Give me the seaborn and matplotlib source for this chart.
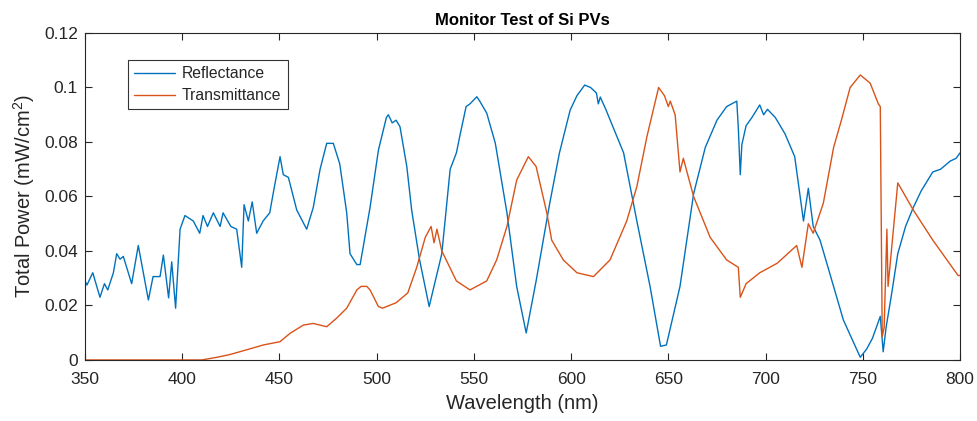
import matplotlib
matplotlib.use("Agg")
import matplotlib.pyplot as plt
import seaborn as sns
import pandas as pd

# ---- data ----
refl_wl = [350, 351, 354, 357.7, 360, 361.7, 364.6, 366.3, 368, 369.7, 374, 377.4, 380, 382.6,
           385, 388.6, 390.3, 393, 394.6, 396.6, 398.9, 401.4, 405.7, 409, 410.7, 413, 416,
           419.5, 421, 425, 428, 430.6, 431.8, 434, 436, 438.3, 441.6, 445, 447, 450.3, 452,
           454.6, 458.9, 464, 467.4, 470.9, 474.3, 477.7, 481, 484.6, 486.3, 489.8, 491.5,
           494.9, 496.6, 500.9, 505, 506, 508, 510, 512, 515.5, 518, 522, 527, 533.5, 537.8, 541,
           543, 546, 548, 551.5, 553, 556.6, 561, 567, 572, 576.9, 582, 589, 594, 599.5, 603, 607,
           610, 613, 614, 615, 618, 627, 633.8, 640.6, 646, 649, 656, 663, 669, 675, 680,
           685.2, 686, 687, 687.8, 690, 693, 697, 699, 701, 705, 710, 715, 719.5, 722, 724.5,
           728, 731.5, 740, 748.7, 752, 755, 759, 760.5, 762, 765, 768, 772, 776, 780, 786,
           790, 795, 798, 800]
refl_val = [0.029, 0.0275, 0.032, 0.023, 0.028, 0.0257, 0.032, 0.039, 0.037, 0.038, 0.028, 0.042,
            0.032, 0.022, 0.0306, 0.0306, 0.0385, 0.0228, 0.036, 0.019, 0.048, 0.053, 0.051,
            0.0465, 0.053, 0.049, 0.054, 0.049, 0.054, 0.049, 0.048, 0.034, 0.057, 0.051, 0.058,
            0.0465, 0.051, 0.054, 0.062, 0.0746, 0.068, 0.067, 0.055, 0.048, 0.056, 0.070,
            0.0795, 0.0795, 0.072, 0.054, 0.039, 0.035, 0.035, 0.049, 0.056, 0.077, 0.089,
            0.090, 0.087, 0.088, 0.0856, 0.071, 0.055, 0.037, 0.0196, 0.039, 0.070, 0.076,
            0.083, 0.093, 0.094, 0.0966, 0.095, 0.0906, 0.0796, 0.054, 0.027, 0.0099, 0.029,
            0.0575, 0.076, 0.0917, 0.097, 0.1009, 0.100, 0.098, 0.094, 0.0965, 0.0917, 0.076,
            0.051, 0.027, 0.005, 0.0055, 0.027, 0.061, 0.078, 0.088, 0.093,
            0.095, 0.085, 0.068, 0.079, 0.086, 0.089, 0.0936, 0.090, 0.092, 0.089, 0.083, 0.0746,
            0.051, 0.063, 0.049, 0.044, 0.0355, 0.0147, 0.001, 0.004, 0.008, 0.016, 0.003, 0.012,
            0.025, 0.039, 0.049, 0.056, 0.062, 0.069, 0.070, 0.073, 0.074, 0.076]

trans_wl = [350, 410, 414, 418, 424.6, 433, 441.7, 450.3, 455.5, 462.3, 467.4, 474.3, 479.5,
            484.6, 489.8, 492, 494.9, 496.6, 500.9, 503, 510, 516, 520.6, 525, 528, 529.5, 531,
            533.5, 541, 548, 556.6, 561.7, 567, 572, 578, 582, 587.5, 590, 596, 603, 611.5,
            620, 628.6, 633.8, 639, 645, 648, 650, 651, 653.5, 656, 657.7, 663, 671.5, 680, 686,
            687, 690, 697, 706, 716, 718.7, 722, 724.5, 729.7, 735, 739, 743.5, 748.7, 753.8,
            758, 759, 760, 761, 762.4, 763, 768, 776, 786, 799, 800]
trans_val = [0.0, 0.0, 0.0005, 0.001, 0.002, 0.0037, 0.0055, 0.0067, 0.0098, 0.0128, 0.0134,
             0.0122, 0.0154, 0.019, 0.0257, 0.027, 0.027, 0.0257, 0.0196, 0.019, 0.021, 0.0246,
             0.034, 0.045, 0.049, 0.043, 0.048, 0.040, 0.029, 0.0257, 0.029, 0.0367, 0.049,
             0.066, 0.0746, 0.071, 0.054, 0.044, 0.0367, 0.032, 0.0306, 0.0367, 0.051, 0.0636,
             0.082, 0.100, 0.097, 0.093, 0.095, 0.090, 0.069, 0.074, 0.060, 0.045, 0.0367, 0.034,
             0.023, 0.028, 0.032, 0.0355, 0.042, 0.034, 0.050, 0.0465, 0.0575, 0.078, 0.088,
             0.100, 0.1046, 0.1016, 0.094, 0.093, 0.0086, 0.012, 0.048, 0.027, 0.065, 0.055,
             0.044, 0.031, 0.031]

series_names = ["Reflectance", "Transmittance"]
series_colors = ["#0072BD", "#D95319"]
x_ticks = [350, 400, 450, 500, 550, 600, 650, 700, 750, 800]
y_ticks = [0, 0.02, 0.04, 0.06, 0.08, 0.1, 0.12]
y_tick_labels = ["0", "0.02", "0.04", "0.06", "0.08", "0.1", "0.12"]
title = "Monitor Test of Si PVs"
x_label = "Wavelength (nm)"
y_label = "Total Power (mW/cm$^2$)"

# ---- build table ----
df = pd.concat([
    pd.DataFrame({"wl": refl_wl, "val": refl_val, "series": series_names[0]}),
    pd.DataFrame({"wl": trans_wl, "val": trans_val, "series": series_names[1]}),
], ignore_index=True)

sns.set_style("white")
plt.rcParams["font.family"] = ["Liberation Sans", "DejaVu Sans"]
plt.rcParams["mathtext.fontset"] = "custom"
plt.rcParams["mathtext.rm"] = "Liberation Sans"

fig = plt.figure(figsize=(9.77, 4.21), dpi=100)
ax = fig.add_axes([0.087, 0.145, 0.8956, 0.7766])

sns.lineplot(data=df, x="wl", y="val", hue="series", hue_order=series_names,
             palette=series_colors, linewidth=1.0, sort=True, estimator=None, ax=ax)

ax.set_xlim(350, 800)
ax.set_ylim(0, 0.12)
ax.set_xticks(x_ticks)
ax.set_yticks(y_ticks)
ax.set_yticklabels(y_tick_labels)

edge = "#262626"
for sp in ax.spines.values():
    sp.set_visible(True)
    sp.set_color(edge)
    sp.set_linewidth(0.8)
ax.tick_params(direction="in", length=5, width=0.8, color=edge, labelcolor=edge,
               labelsize=12.5, top=True, right=True, bottom=True, left=True)
ax.tick_params(axis="x", pad=9)
ax.tick_params(axis="y", pad=5)

ax.set_title(title, fontsize=12, fontweight="bold", color="black", pad=6)
ax.set_xlabel(x_label, fontsize=14.5, color=edge, labelpad=5)
ax.set_ylabel(y_label, fontsize=14.5, color=edge, labelpad=5)

leg = ax.legend(loc="upper left", bbox_to_anchor=(0.049, 0.918), frameon=True,
                fancybox=False, edgecolor="black", fontsize=11.3, handlelength=2.6,
                borderpad=0.4, labelspacing=0.45, handletextpad=0.45, borderaxespad=0)
leg.get_frame().set_linewidth(0.8)
for t in leg.get_texts():
    t.set_color(edge)

fig.savefig("out.png", dpi=100, facecolor="white")
